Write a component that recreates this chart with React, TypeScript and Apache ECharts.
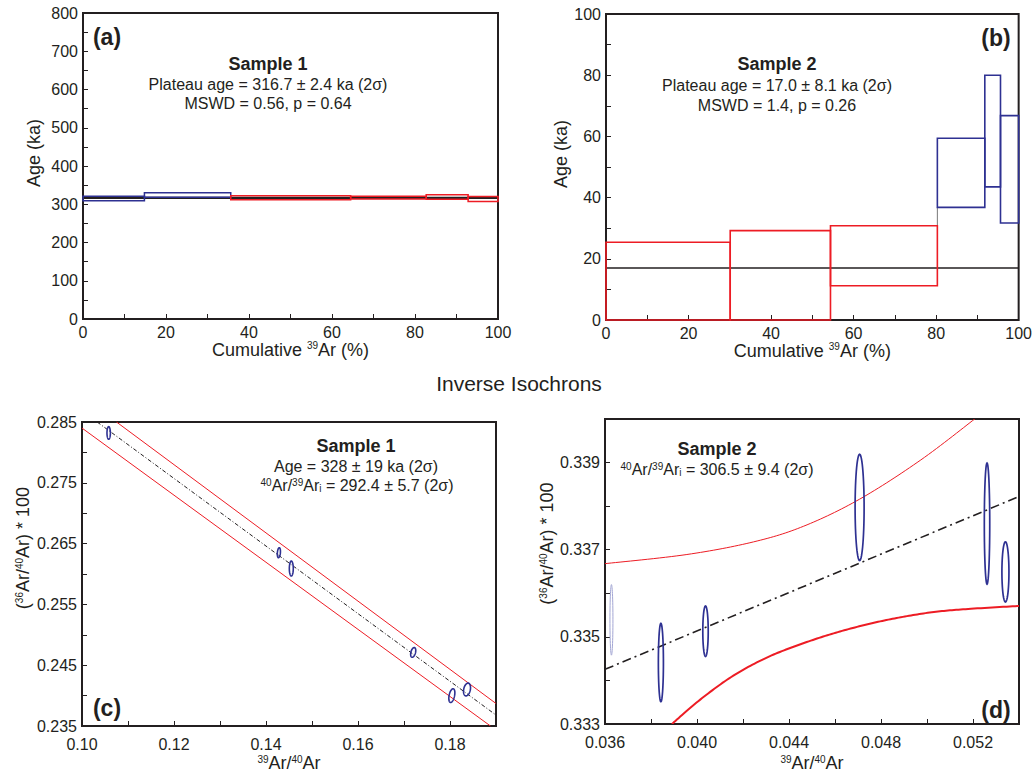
import React, { useEffect, useRef } from 'react';
import * as echarts from 'echarts';

const BLUE = '#2e3192';
const RED = '#ed1c24';
const FAINT = '#a3a6d4';
const INK = '#231f20';
const FONT = '"Liberation Sans", Arial, sans-serif';

// ---------- Panel (a): Sample 1 age spectrum ----------
// [x0, x1, lower age, upper age]
const aSteps = [
  [0, 14.8, 309, 321],
  [14.8, 35.6, 318, 330],
  [35.6, 64.5, 312, 322],
  [64.5, 82.7, 314, 321],
  [82.7, 92.8, 313, 325],
  [92.8, 100, 307, 320],
];
const aStepColors = ['blue', 'blue', 'red', 'red', 'red', 'red'];
const aPlateau = 316.7;

// ---------- Panel (b): Sample 2 age spectrum ----------
const bSteps = [
  [0, 30.1, 0, 25.4],
  [30.1, 54.4, 0, 29.2],
  [54.4, 80.3, 11.2, 30.8],
  [80.3, 91.8, 36.8, 59.4],
  [91.8, 95.6, 43.5, 80.0],
  [95.6, 100, 31.7, 66.8],
];
const bStepColors = ['red', 'red', 'red', 'blue', 'blue', 'blue'];
const bPlateau = 17.0;
const bConnector = [[80.3, 30.8], [80.3, 36.8]];

// ---------- Panel (c): Sample 1 inverse isochron ----------
// [x, y, half-width, half-height, tilt deg]
const cEllipses = [
  [0.1058, 0.2832, 0.00037, 0.00104, 0],
  [0.1428, 0.2635, 0.00033, 0.00082, 5],
  [0.1455, 0.2609, 0.00043, 0.00123, 0],
  [0.1720, 0.2471, 0.0005, 0.00082, 15],
  [0.1804, 0.2400, 0.00059, 0.00115, 12],
  [0.1837, 0.2410, 0.00072, 0.00107, 12],
];
const cFit = [[0.1033, 0.285], [0.19, 0.2368]];
const cUpper = [[0.1075, 0.285], [0.19, 0.2387]];
const cLower = [[0.10, 0.2840], [0.1888, 0.235]];

// ---------- Panel (d): Sample 2 inverse isochron ----------
const dEllipses = [
  [0.03628, 0.33539, 0.000065, 0.00081, 0],
  [0.03843, 0.33441, 0.00011, 0.0009, 0],
  [0.04037, 0.33513, 0.000118, 0.00058, 0],
  [0.04707, 0.33797, 0.000196, 0.00122, 0],
  [0.05261, 0.33760, 0.000118, 0.00139, 0],
  [0.05341, 0.33649, 0.000153, 0.00069, 0],
];
const dEllipseColors = ['faint', 'blue', 'blue', 'blue', 'blue', 'blue'];
const dFit = [[0.036, 0.334254], [0.054, 0.33822]];
const dUpper = [
  [0.036, 0.33668], [0.03956, 0.33689], [0.04246, 0.33718], [0.04464, 0.33754],
  [0.04707, 0.33816], [0.04973, 0.33906], [0.05217, 0.34004],
];
const dLower = [
  [0.03891, 0.333], [0.04014, 0.33356], [0.04158, 0.33411], [0.04306, 0.33453],
  [0.0445, 0.33483], [0.04594, 0.33508], [0.04742, 0.33529], [0.04886, 0.33545],
  [0.0503, 0.33557], [0.05179, 0.33564], [0.05401, 0.33571],
];

const colorOf = (k: string) => (k === 'blue' ? BLUE : k === 'red' ? RED : FAINT);

function boxSeries(idx: number, steps: number[][], colors: string[], lw: number) {
  return {
    type: 'custom',
    xAxisIndex: idx,
    yAxisIndex: idx,
    data: steps,
    encode: { x: [0, 1], y: [2, 3] },
    renderItem: (params: any, api: any) => {
      const p0 = api.coord([api.value(0), api.value(3)]);
      const p1 = api.coord([api.value(1), api.value(2)]);
      return {
        type: 'rect',
        shape: { x: p0[0], y: p0[1], width: p1[0] - p0[0], height: p1[1] - p0[1] },
        style: { fill: 'none', stroke: colorOf(colors[params.dataIndex]), lineWidth: lw },
      };
    },
    z: 3,
  };
}

function ellipseSeries(idx: number, data: number[][], colors: string[] | null, lw: number) {
  return {
    type: 'custom',
    xAxisIndex: idx,
    yAxisIndex: idx,
    data,
    encode: { x: 0, y: 1 },
    renderItem: (params: any, api: any) => {
      const c = api.coord([api.value(0), api.value(1)]);
      const s = api.size([api.value(2), api.value(3)]);
      const rot = (api.value(4) * Math.PI) / 180;
      const pts: number[][] = [];
      for (let i = 0; i < 60; i++) {
        const t = (i / 60) * Math.PI * 2;
        const dx = s[0] * Math.cos(t);
        const dy = s[1] * Math.sin(t);
        pts.push([c[0] + dx * Math.cos(rot) - dy * Math.sin(rot), c[1] + dx * Math.sin(rot) + dy * Math.cos(rot)]);
      }
      const k = colors ? colors[params.dataIndex] : 'blue';
      return {
        type: 'polygon',
        shape: { points: pts },
        style: { fill: 'none', stroke: colorOf(k), lineWidth: k === 'faint' ? 1 : lw },
      };
    },
    z: 4,
  };
}

// smooth curve through the read points, drawn in pixel space via the axes
function curveSeries(idx: number, data: number[][], color: string, width: number) {
  return {
    type: 'custom',
    xAxisIndex: idx,
    yAxisIndex: idx,
    data: [data[0]],
    encode: { x: 0, y: 1 },
    clip: true,
    renderItem: (params: any, api: any) => {
      const P = data.map((p) => api.coord(p));
      const n = P.length;
      const out: number[][] = [];
      for (let i = 0; i < n - 1; i++) {
        const p0 = P[Math.max(i - 1, 0)];
        const p1 = P[i];
        const p2 = P[i + 1];
        const p3 = P[Math.min(i + 2, n - 1)];
        const steps = 16;
        for (let s = 0; s < steps; s++) {
          const t = s / steps;
          const t2 = t * t;
          const t3 = t2 * t;
          const f = (a: number, b: number, c: number, d: number) =>
            0.5 * (2 * b + (-a + c) * t + (2 * a - 5 * b + 4 * c - d) * t2 + (-a + 3 * b - 3 * c + d) * t3);
          out.push([f(p0[0], p1[0], p2[0], p3[0]), f(p0[1], p1[1], p2[1], p3[1])]);
        }
      }
      out.push(P[n - 1]);
      return {
        type: 'polyline',
        shape: { points: out },
        style: { fill: 'none', stroke: color, lineWidth: width },
      };
    },
    z: 2,
  };
}

function lineSeries(idx: number, data: number[][], color: string, width: number, type: any) {
  return {
    type: 'line',
    xAxisIndex: idx,
    yAxisIndex: idx,
    data,
    showSymbol: false,
    symbol: 'none',
    lineStyle: { color, width, type },
    clip: true,
    z: 2,
  };
}

const supRich = {
  sup: { fontSize: 10, verticalAlign: 'top', color: INK, fontFamily: FONT },
  sub: { fontSize: 10, verticalAlign: 'bottom', color: INK, fontFamily: FONT },
};

function xAxisOf(idx: number, min: number, max: number, interval: number, fmt: (v: number) => string, name: string, nameGap: number, margin: number) {
  return {
    type: 'value',
    gridIndex: idx,
    min,
    max,
    interval,
    axisLine: { show: false },
    axisTick: { show: true, inside: true, length: 5, lineStyle: { color: INK, width: 1 } },
    splitLine: { show: false },
    axisLabel: { formatter: fmt, fontSize: 16, color: INK, fontFamily: FONT, margin, showMaxLabel: true, showMinLabel: true },
    name,
    nameLocation: 'middle',
    nameGap,
    nameTextStyle: { fontSize: 18, color: INK, fontFamily: FONT, rich: supRich },
  };
}

function yAxisOf(idx: number, min: number, max: number, interval: number, fmt: (v: number) => string, name: string, nameGap: number, shiftUp: number) {
  return {
    type: 'value',
    gridIndex: idx,
    min,
    max,
    interval,
    axisLine: { show: false },
    axisTick: { show: true, inside: true, length: 5, lineStyle: { color: INK, width: 1 } },
    splitLine: { show: false },
    axisLabel: { formatter: fmt, fontSize: 16, color: INK, fontFamily: FONT, margin: 5 },
    name,
    nameLocation: 'middle',
    nameGap,
    nameRotate: 90,
    nameTextStyle: { fontSize: 18, color: INK, fontFamily: FONT, rich: supRich, padding: [0, 0, 0, shiftUp * 2] },
  };
}

const gridBase = { show: true, borderColor: INK, borderWidth: 2, backgroundColor: 'transparent', containLabel: false };

const gText = (x: number, y: number, text: string, size: number, bold = false, rich: any = undefined) => ({
  type: 'text',
  x,
  y,
  style: {
    text,
    fontSize: size,
    fontWeight: bold ? 'bold' : 'normal',
    fontFamily: FONT,
    fill: INK,
    align: 'center',
    verticalAlign: 'middle',
    rich,
  },
  z: 10,
});

const gRich = {
  sup: { fontSize: 10, verticalAlign: 'top', fill: INK, fontFamily: FONT },
  sub: { fontSize: 10, verticalAlign: 'bottom', fill: INK, fontFamily: FONT },
};

export default function App() {
  const ref = useRef<HTMLDivElement>(null);
  useEffect(() => {
    document.body.style.margin = '0';
    const chart = echarts.init(ref.current!, null, { renderer: 'svg' });
    const mod = (v: number, scale: number, m: number, r: number, d: number) =>
      Math.round(v * scale) % m === r ? v.toFixed(d) : '';
    chart.setOption({
      animation: false,
      backgroundColor: '#ffffff',
      textStyle: { fontFamily: FONT },
      grid: [
        { ...gridBase, left: 83, top: 13, width: 415, height: 306 },
        { ...gridBase, left: 606, top: 14, width: 413, height: 306 },
        { ...gridBase, left: 82, top: 422, width: 414, height: 304 },
        { ...gridBase, left: 605, top: 419, width: 414, height: 305 },
      ],
      xAxis: [
        xAxisOf(0, 0, 100, 10, (v) => mod(v, 1, 20, 0, 0), 'Cumulative {sup|39}Ar (%)', 21, 5),
        xAxisOf(1, 0, 100, 10, (v) => mod(v, 1, 20, 0, 0), 'Cumulative {sup|39}Ar (%)', 21, 5),
        xAxisOf(2, 0.1, 0.19, 0.01, (v) => mod(v, 100, 2, 0, 2), '{sup|39}Ar/{sup|40}Ar', 28, 10),
        xAxisOf(3, 0.036, 0.054, 0.002, (v) => mod(v, 1000, 4, 0, 3), '{sup|39}Ar/{sup|40}Ar', 30, 10),
      ],
      yAxis: [
        yAxisOf(0, 0, 800, 50, (v) => mod(v, 1, 100, 0, 0), 'Age (ka)', 40, 13),
        yAxisOf(1, 0, 100, 10, (v) => mod(v, 1, 20, 0, 0), 'Age (ka)', 32, 13),
        yAxisOf(2, 0.235, 0.285, 0.005, (v) => mod(v, 1000, 10, 5, 3), '({sup|36}Ar/{sup|40}Ar) * 100', 50, 26),
        yAxisOf(3, 0.333, 0.34, 0.001, (v) => mod(v, 1000, 2, 1, 3), '({sup|36}Ar/{sup|40}Ar) * 100', 48, 28),
      ],
      series: [
        lineSeries(0, [[0, aPlateau], [100, aPlateau]], INK, 2.2, 'solid'),
        boxSeries(0, aSteps, aStepColors, 1.5),
        lineSeries(1, [[0, bPlateau], [100, bPlateau]], INK, 1.6, 'solid'),
        lineSeries(1, bConnector, '#555555', 0.8, 'solid'),
        boxSeries(1, bSteps, bStepColors, 1.6),
        lineSeries(2, cUpper, RED, 1, 'solid'),
        lineSeries(2, cLower, RED, 1, 'solid'),
        lineSeries(2, cFit, INK, 1, [4, 2, 1, 2]),
        ellipseSeries(2, cEllipses, null, 1.6),
        curveSeries(3, dUpper, RED, 1),
        curveSeries(3, dLower, RED, 2),
        lineSeries(3, dFit, INK, 1.6, [9, 4, 2, 4]),
        ellipseSeries(3, dEllipses, dEllipseColors, 1.7),
      ],
      graphic: [
        gText(107, 37, '(a)', 23, true),
        gText(268, 64, 'Sample 1', 18, true),
        gText(268, 84, 'Plateau age = 316.7 ± 2.4 ka (2σ)', 16),
        gText(268, 103, 'MSWD = 0.56, p = 0.64', 16),
        gText(996, 38, '(b)', 23, true),
        gText(777, 64, 'Sample 2', 18, true),
        gText(777, 85, 'Plateau age = 17.0 ± 8.1 ka (2σ)', 16),
        gText(777, 105, 'MSWD = 1.4, p = 0.26', 16),
        gText(519, 383, 'Inverse Isochrons', 21),
        gText(356, 446, 'Sample 1', 18, true),
        gText(356, 466, 'Age = 328 ± 19 ka (2σ)', 16),
        gText(357, 485, '{sup|40}Ar/{sup|39}Ar{sub|i} = 292.4 ± 5.7 (2σ)', 16, false, gRich),
        gText(107, 708, '(c)', 23, true),
        gText(717, 449, 'Sample 2', 18, true),
        gText(717, 469, '{sup|40}Ar/{sup|39}Ar{sub|i} = 306.5 ± 9.4 (2σ)', 16, false, gRich),
        gText(996, 710, '(d)', 23, true),
      ],
    });
    return () => chart.dispose();
  }, []);
  return <div ref={ref} style={{ width: 1035, height: 776 }} />;
}
